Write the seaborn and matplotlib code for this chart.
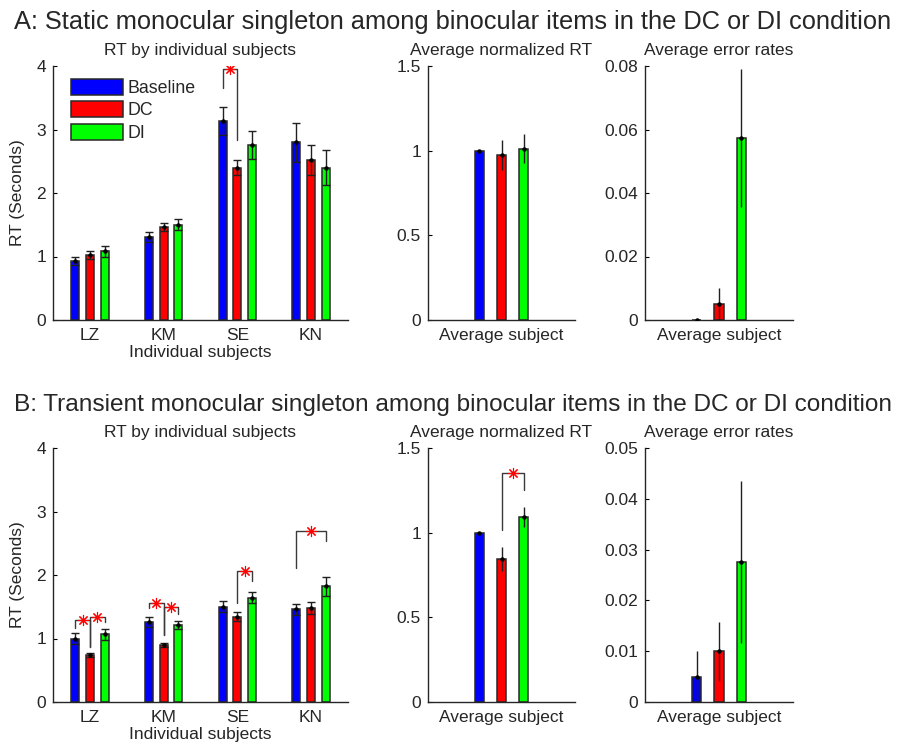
import numpy as np
import pandas as pd
import matplotlib
matplotlib.use("Agg")
import matplotlib.pyplot as plt
from matplotlib.ticker import FuncFormatter
from matplotlib.patches import Patch
import seaborn as sns

# ---------------- data ----------------
subjects = ["LZ", "KM", "SE", "KN"]
conditions = ["Baseline", "DC", "DI"]
avg_label = ["Average subject"]

# Panel A (static singleton)
A_rt_baseline = [0.93, 1.31, 3.13, 2.80]
A_rt_dc = [1.02, 1.46, 2.40, 2.52]
A_rt_di = [1.08, 1.50, 2.75, 2.40]
A_rt_err_baseline = [0.07, 0.08, 0.22, 0.31]
A_rt_err_dc = [0.065, 0.06, 0.12, 0.24]
A_rt_err_di = [0.08, 0.09, 0.22, 0.27]
A_norm = [1.0, 0.974, 1.012]
A_norm_err = [0.005, 0.088, 0.085]
A_errrate = [0.0, 0.005, 0.0574]
A_errrate_err = [0.0, 0.005, 0.0218]

# Panel B (transient singleton)
B_rt_baseline = [1.00, 1.256, 1.503, 1.461]
B_rt_dc = [0.746, 0.904, 1.346, 1.482]
B_rt_di = [1.067, 1.214, 1.645, 1.819]
B_rt_err_baseline = [0.09, 0.08, 0.08, 0.087]
B_rt_err_dc = [0.03, 0.03, 0.07, 0.097]
B_rt_err_di = [0.085, 0.06, 0.09, 0.147]
B_norm = [1.0, 0.843, 1.09]
B_norm_err = [0.005, 0.07, 0.059]
B_errrate = [0.005, 0.01, 0.0276]
B_errrate_err = [0.005, 0.0058, 0.016]

# significance brackets: (category, cond_a, cond_b, top, leg_a_bottom, leg_b_bottom)
A_rt_sig = [("SE", "Baseline", "DC", 3.95, 3.65, 2.83)]
B_rt_sig = [("LZ", "Baseline", "DC", 1.293, 1.16, 0.87),
            ("LZ", "DC", "DI", 1.346, 0.87, 1.256),
            ("KM", "Baseline", "DC", 1.566, 1.477, 1.056),
            ("KM", "DC", "DI", 1.503, 1.056, 1.388),
            ("SE", "DC", "DI", 2.06, 1.566, 1.913),
            ("KN", "Baseline", "DI", 2.70, 2.108, 2.539)]
B_norm_sig = [("Average subject", "DC", "DI", 1.355, 1.016, 1.25)]

titleA = "A: Static monocular singleton among binocular items in the DC or DI condition"
titleB = "B: Transient monocular singleton among binocular items in the DC or DI condition"

palette = {"Baseline": "#0000ff", "DC": "#ff0000", "DI": "#00ff00"}

# ---------------- style ----------------
sns.set_style("ticks")
plt.rcParams["font.family"] = ["Liberation Sans", "DejaVu Sans"]
plt.rcParams["font.size"] = 12.5
plt.rcParams["axes.linewidth"] = 1.0

FS = 12.5
W, H = 909, 749
fig = plt.figure(figsize=(W / 100, H / 100), dpi=100)


def ax_at(x0, x1, ytop, ybot):
    return fig.add_axes([x0 / W, 1 - ybot / H, (x1 - x0) / W, (ybot - ytop) / H])


def make_df(cats, series):
    rows = []
    for cond, vals, errs in series:
        for c, v, e in zip(cats, vals, errs):
            rows.append({"cat": c, "cond": cond, "val": v, "err": e})
    return pd.DataFrame(rows)


def draw_panel(ax, df, cats, gap, caps, xlim, ylim, yticks, title, xlabel=None, ylabel=None):
    sns.barplot(data=df, x="cat", y="val", hue="cond", order=cats, hue_order=conditions,
                palette=palette, width=0.6, gap=gap, errorbar=None, edgecolor="#282828",
                linewidth=1.1, saturation=1, legend=False, ax=ax)
    patches = list(ax.patches)
    centers = {}
    i = 0
    for cond in conditions:
        for c in cats:
            p = patches[i]
            i += 1
            row = df[(df.cat == c) & (df.cond == cond)].iloc[0]
            xc = p.get_x() + p.get_width() / 2
            centers[(c, cond)] = xc
            ax.errorbar(xc, row.val, yerr=row.err, fmt="o", color="k", ms=2.2,
                        elinewidth=1.0, capsize=2.6 if caps else 0, capthick=1.0,
                        ecolor="#202020", zorder=5)
    ax.set_xlim(*xlim)
    ax.set_ylim(*ylim)
    ax.set_yticks(yticks)
    ax.yaxis.set_major_formatter(FuncFormatter(lambda v, p: "%g" % v))
    ax.tick_params(axis="y", direction="in", length=3, pad=5, labelsize=FS, color="k")
    ax.tick_params(axis="x", length=0, pad=6, labelsize=FS)
    sns.despine(ax=ax)
    ax.set_title(title, fontsize=FS, pad=8)
    ax.set_xlabel(xlabel if xlabel else "", fontsize=FS, labelpad=1)
    ax.set_ylabel(ylabel if ylabel else "", fontsize=FS, labelpad=8)
    return centers


def draw_sig(ax, centers, sigs):
    for cat, ca, cb, top, ba, bb in sigs:
        xa = centers[(cat, ca)]
        xb = centers[(cat, cb)]
        ax.plot([xa, xa, xb, xb], [ba, top, top, bb], color="#3a3a3a", lw=1.0, zorder=6)
        ax.plot((xa + xb) / 2, top, marker=(8, 2, 0), color="#ff0000", ms=8, mew=0.8,
                zorder=7, linestyle="none")


xl_sub = (-0.5, 3.5)
xl_avg = (-0.668, 0.668)

# ---------------- Row A ----------------
axA1 = ax_at(53, 348, 66, 320)
dfA1 = make_df(subjects, [("Baseline", A_rt_baseline, A_rt_err_baseline),
                          ("DC", A_rt_dc, A_rt_err_dc),
                          ("DI", A_rt_di, A_rt_err_di)])
cA1 = draw_panel(axA1, dfA1, subjects, 0.46, True, xl_sub, (0, 4), [0, 1, 2, 3, 4],
                 "RT by individual subjects", "Individual subjects", "RT (Seconds)")
draw_sig(axA1, cA1, A_rt_sig)
handles = [Patch(facecolor=palette[c], edgecolor="#282828", linewidth=1.1) for c in conditions]
axA1.legend(handles, conditions, loc="upper left", bbox_to_anchor=(0.061, 0.95), frameon=False,
            handlelength=2.9, handleheight=1.0, labelspacing=0.25, handletextpad=0.3,
            borderaxespad=0, borderpad=0, fontsize=12.8)

axA2 = ax_at(428, 575, 66, 320)
dfA2 = make_df(avg_label, [(c, [v], [e]) for c, v, e in zip(conditions, A_norm, A_norm_err)])
draw_panel(axA2, dfA2, avg_label, 0.59, False, xl_avg, (0, 1.5), [0, 0.5, 1, 1.5],
           "Average normalized RT")

axA3 = ax_at(645, 793, 66, 320)
dfA3 = make_df(avg_label, [(c, [v], [e]) for c, v, e in zip(conditions, A_errrate, A_errrate_err)])
draw_panel(axA3, dfA3, avg_label, 0.59, False, xl_avg, (0, 0.08), [0, 0.02, 0.04, 0.06, 0.08],
           "Average error rates")

# ---------------- Row B ----------------
axB1 = ax_at(53, 348, 448, 702)
dfB1 = make_df(subjects, [("Baseline", B_rt_baseline, B_rt_err_baseline),
                          ("DC", B_rt_dc, B_rt_err_dc),
                          ("DI", B_rt_di, B_rt_err_di)])
cB1 = draw_panel(axB1, dfB1, subjects, 0.46, True, xl_sub, (0, 4), [0, 1, 2, 3, 4],
                 "RT by individual subjects", "Individual subjects", "RT (Seconds)")
draw_sig(axB1, cB1, B_rt_sig)

axB2 = ax_at(428, 575, 448, 702)
dfB2 = make_df(avg_label, [(c, [v], [e]) for c, v, e in zip(conditions, B_norm, B_norm_err)])
cB2 = draw_panel(axB2, dfB2, avg_label, 0.59, False, xl_avg, (0, 1.5), [0, 0.5, 1, 1.5],
                 "Average normalized RT")
draw_sig(axB2, cB2, B_norm_sig)

axB3 = ax_at(645, 793, 448, 702)
dfB3 = make_df(avg_label, [(c, [v], [e]) for c, v, e in zip(conditions, B_errrate, B_errrate_err)])
draw_panel(axB3, dfB3, avg_label, 0.59, False, xl_avg, (0, 0.05), [0, 0.01, 0.02, 0.03, 0.04, 0.05],
           "Average error rates")

fig.text(14 / W, 1 - 22 / H, titleA, fontsize=18.3, ha="left", va="center")
fig.text(14 / W, 1 - 405 / H, titleB, fontsize=17.6, ha="left", va="center")

fig.savefig("out.png", dpi=100, facecolor="white")
